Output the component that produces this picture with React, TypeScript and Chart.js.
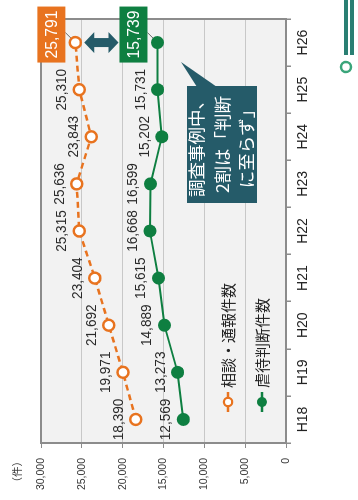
import React, { useEffect, useRef } from "react";
import { Chart, registerables } from "chart.js";

Chart.register(...registerables);

const categories = ["H18", "H19", "H20", "H21", "H22", "H23", "H24", "H25", "H26"];
const consultValues = [18390, 19971, 21692, 23404, 25315, 25636, 23843, 25310, 25791];
const abuseValues = [12569, 13273, 14889, 15615, 16668, 16599, 15202, 15731, 15739];
const seriesNames = ["相談・通報件数", "虐待判断件数"];
const calloutLines = ["調査事例中、", "2割は「判断", "に至らず」"];
const unitLabel = "（件）";

const ORANGE = "#e8731f";
const GREEN = "#0e7f41";
const TEAL = "#255b69";
const LATIN = "'Liberation Sans', Arial, sans-serif";
const CJK = "'Noto Sans CJK JP', 'Noto Sans', sans-serif";

const fmt = (v: number) => v.toLocaleString("en-US");

function condText(ctx: CanvasRenderingContext2D, text: string, x: number, y: number, sx: number) {
  ctx.save();
  ctx.translate(x, y);
  ctx.scale(sx, 1);
  ctx.fillText(text, 0, 0);
  ctx.restore();
}

const decorPlugin = {
  id: "decor",
  beforeDraw(chart: any) {
    const { ctx, chartArea: ca } = chart;
    ctx.save();
    ctx.fillStyle = "#ffffff";
    ctx.fillRect(0, 0, chart.width, chart.height);
    ctx.fillStyle = "#f2f2f2";
    ctx.fillRect(ca.left, ca.top, ca.right - ca.left, ca.bottom - ca.top);
    ctx.restore();
  },
  beforeDatasetsDraw(chart: any) {
    const { ctx, chartArea: ca } = chart;
    ctx.save();
    ctx.strokeStyle = "#8c8c8c";
    ctx.lineWidth = 2;
    ctx.strokeRect(ca.left, ca.top, ca.right - ca.left, ca.bottom - ca.top);
    const last = categories.length - 1;
    [0, 1].forEach((di) => {
      const p = chart.getDatasetMeta(di).data[last];
      ctx.strokeStyle = "#444";
      ctx.lineWidth = 0.8;
      ctx.beginPath();
      ctx.moveTo(p.x + 10, p.y - 10);
      ctx.lineTo(p.x, p.y);
      ctx.stroke();
    });
    ctx.restore();
  },
  afterDatasetsDraw(chart: any) {
    const { ctx, chartArea: ca } = chart;
    const last = categories.length - 1;
    ctx.save();
    // data labels
    ctx.fillStyle = "#2a2a2a";
    ctx.font = `14px ${LATIN}`;
    ctx.textAlign = "center";
    ctx.textBaseline = "alphabetic";
    [0, 1].forEach((di) => {
      const meta = chart.getDatasetMeta(di);
      const vals = di === 0 ? consultValues : abuseValues;
      meta.data.forEach((p: any, i: number) => {
        if (i === last) return;
        condText(ctx, fmt(vals[i]), p.x, p.y - 13, 0.97);
      });
    });
    // boxed last labels
    const boxes: any[] = [];
    [0, 1].forEach((di) => {
      const p = chart.getDatasetMeta(di).data[last];
      const vals = di === 0 ? consultValues : abuseValues;
      const bx = p.x - 20, bw = 56, bh = 28, by = p.y - 10 - bh;
      ctx.fillStyle = di === 0 ? ORANGE : GREEN;
      ctx.fillRect(bx, by, bw, bh);
      ctx.fillStyle = "#fff";
      ctx.font = `16.5px ${LATIN}`;
      ctx.textBaseline = "middle";
      condText(ctx, fmt(vals[last]), bx + bw / 2, by + bh / 2 + 1, 0.95);
      boxes.push({ p, bx, by, bw, bh });
    });
    // double arrow
    const ax = boxes[0].p.x;
    const y1 = boxes[0].p.y + 9;
    const y2 = boxes[1].by - 1;
    const hw = 10.5, hd = 10, sw = 4.5;
    ctx.fillStyle = TEAL;
    ctx.beginPath();
    ctx.moveTo(ax, y1);
    ctx.lineTo(ax + hw, y1 + hd);
    ctx.lineTo(ax + sw, y1 + hd);
    ctx.lineTo(ax + sw, y2 - hd);
    ctx.lineTo(ax + hw, y2 - hd);
    ctx.lineTo(ax, y2);
    ctx.lineTo(ax - hw, y2 - hd);
    ctx.lineTo(ax - sw, y2 - hd);
    ctx.lineTo(ax - sw, y1 + hd);
    ctx.lineTo(ax - hw, y1 + hd);
    ctx.closePath();
    ctx.fill();
    // callout
    const cl = ca.left + 240, ct = ca.top + 146, cw = 117, ch = 70;
    ctx.fillStyle = TEAL;
    ctx.fillRect(cl, ct, cw, ch);
    ctx.beginPath();
    ctx.moveTo(cl + cw - 1, ct + 10);
    ctx.lineTo(cl + cw + 24, ct - 6);
    ctx.lineTo(cl + cw - 1, ct + 30);
    ctx.closePath();
    ctx.fill();
    ctx.fillStyle = "#fff";
    ctx.font = `17.5px ${CJK}`;
    ctx.textAlign = "center";
    ctx.textBaseline = "middle";
    const lys = [ct + 9, ct + 35, ct + 59];
    calloutLines.forEach((t, i) => ctx.fillText(t, cl + cw / 2, lys[i]));
    // legend
    const lx = ca.left + 41;
    const rows = [ca.top + 187, ca.top + 221];
    rows.forEach((ry, i) => {
      const col = i === 0 ? ORANGE : GREEN;
      ctx.strokeStyle = col;
      ctx.lineWidth = 2.5;
      ctx.beginPath();
      ctx.moveTo(lx - 10, ry);
      ctx.lineTo(lx + 10, ry);
      ctx.stroke();
      ctx.beginPath();
      ctx.arc(lx, ry, i === 0 ? 4.2 : 5, 0, Math.PI * 2);
      ctx.fillStyle = i === 0 ? "#fff" : col;
      ctx.fill();
      if (i === 0) {
        ctx.lineWidth = 2.2;
        ctx.stroke();
      }
      ctx.fillStyle = "#222";
      ctx.font = `15px ${CJK}`;
      ctx.textAlign = "left";
      ctx.textBaseline = "middle";
      ctx.fillText(seriesNames[i], lx + 14, ry);
    });
    // unit
    ctx.fillStyle = "#333";
    ctx.font = `10.5px ${CJK}`;
    ctx.textAlign = "right";
    ctx.textBaseline = "middle";
    ctx.fillText(unitLabel, 44, 17);
    // logo fragment
    ctx.strokeStyle = "#3aa57a";
    ctx.lineWidth = 2.5;
    ctx.beginPath();
    ctx.arc(433, 346, 5, 0, Math.PI * 2);
    ctx.stroke();
    ctx.fillStyle = "#2a7f73";
    ctx.fillRect(445, 344, 55, 4);
    ctx.fillRect(445, 350, 55, 4);
    ctx.restore();
  },
};

export default function App() {
  const ref = useRef<HTMLCanvasElement | null>(null);
  useEffect(() => {
    if (!ref.current) return;
    const chart = new Chart(ref.current, {
      type: "line",
      data: {
        labels: categories,
        datasets: [
          {
            label: seriesNames[0],
            data: consultValues,
            borderColor: ORANGE,
            borderWidth: 2.5,
            borderDash: [6, 4],
            pointRadius: 5.5,
            pointBorderWidth: 2.5,
            pointBackgroundColor: "#ffffff",
            pointBorderColor: ORANGE,
            fill: false,
            tension: 0,
          },
          {
            label: seriesNames[1],
            data: abuseValues,
            borderColor: GREEN,
            borderWidth: 2,
            pointRadius: 6.5,
            pointBorderWidth: 0,
            pointBackgroundColor: GREEN,
            pointBorderColor: GREEN,
            fill: false,
            tension: 0,
          },
        ],
      },
      options: {
        responsive: false,
        animation: false,
        devicePixelRatio: 1,
        layout: { padding: { left: 0, right: 19, top: 41, bottom: 0 } },
        plugins: { legend: { display: false }, tooltip: { enabled: false } },
        scales: {
          x: {
            offset: true,
            afterFit: (s: any) => {
              s.height = 72;
            },
            grid: {
              offset: true,
              drawOnChartArea: false,
              drawTicks: true,
              tickLength: 5,
              tickColor: "#8c8c8c",
              lineWidth: 1.5,
            },
            border: { display: false },
            ticks: {
              color: "#222",
              font: { family: LATIN, size: 14 },
              padding: 4,
              maxRotation: 0,
              autoSkip: false,
            },
          },
          y: {
            min: 0,
            max: 30000,
            afterFit: (s: any) => {
              s.width = 57;
            },
            grid: {
              color: "#c8c8c8",
              lineWidth: 1,
              tickLength: 5,
              tickColor: "#8c8c8c",
            },
            border: { display: false },
            ticks: {
              stepSize: 5000,
              color: "#333",
              font: { family: LATIN, size: 10.5 },
              padding: 10,
              callback: (v: any) => fmt(Number(v)),
            },
          },
        },
      },
      plugins: [decorPlugin],
    } as any);
    return () => chart.destroy();
  }, []);
  return (
    <div
      style={{
        position: "absolute",
        left: 0,
        top: 0,
        width: 500,
        height: 358,
        transformOrigin: "0 0",
        transform: "translate(0px, 500px) rotate(-90deg)",
        background: "#fff",
      }}
    >
      <canvas ref={ref} width={500} height={358} style={{ width: 500, height: 358, display: "block" }} />
    </div>
  );
}
